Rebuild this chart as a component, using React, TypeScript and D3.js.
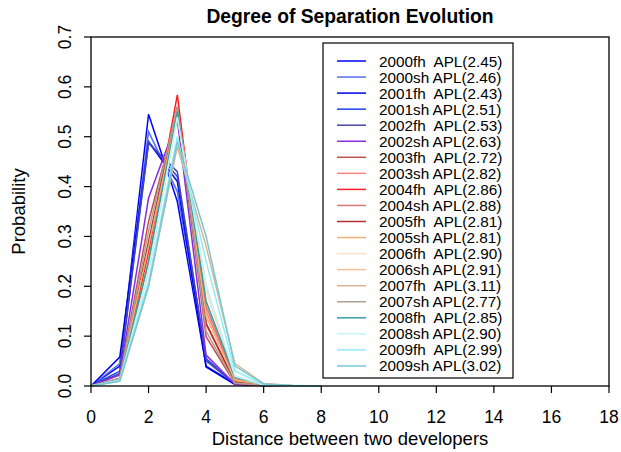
import React from "react";
import * as d3 from "d3";

const distances = [0, 1, 2, 3, 4, 5, 6, 7, 8];
const periods = ["2000fh", "2000sh", "2001fh", "2001sh", "2002fh", "2002sh", "2003fh", "2003sh", "2004fh", "2004sh",
  "2005fh", "2005sh", "2006fh", "2006sh", "2007fh", "2007sh", "2008fh", "2008sh", "2009fh", "2009sh"];
const apl = ["2.45", "2.46", "2.43", "2.51", "2.53", "2.63", "2.72", "2.82", "2.86", "2.88",
  "2.81", "2.81", "2.90", "2.91", "3.11", "2.77", "2.85", "2.90", "2.99", "3.02"];
const colors = ["#0000FF", "#5570F0", "#0000E8", "#2040EE", "#4545B0", "#8A2BE2", "#C05050", "#FF8080", "#FF2020", "#D87878",
  "#B03030", "#F2B070", "#FFE0C0", "#F4C290", "#D8B490", "#B0A090", "#3A9CA2", "#C0F6FC", "#90ECF8", "#78C8D2"];
const s2000fh = [0, 0.04, 0.545, 0.37, 0.04, 0.004, 0.001, 0, 0];
const s2000sh = [0, 0.045, 0.51, 0.39, 0.05, 0.004, 0.001, 0, 0];
const s2001fh = [0, 0.058, 0.49, 0.41, 0.038, 0.003, 0.001, 0, 0];
const s2001sh = [0, 0.03, 0.49, 0.42, 0.055, 0.004, 0.001, 0, 0];
const s2002fh = [0, 0.025, 0.487, 0.43, 0.052, 0.005, 0.001, 0, 0];
const s2002sh = [0, 0.022, 0.377, 0.534, 0.062, 0.004, 0.001, 0, 0];
const s2003fh = [0, 0.015, 0.33, 0.55, 0.099, 0.005, 0.001, 0, 0];
const s2003sh = [0, 0.012, 0.27, 0.55, 0.15, 0.015, 0.002, 0, 0];
const s2004fh = [0, 0.012, 0.27, 0.584, 0.125, 0.008, 0.001, 0, 0];
const s2004sh = [0, 0.012, 0.25, 0.56, 0.16, 0.015, 0.002, 0, 0];
const s2005fh = [0, 0.015, 0.29, 0.56, 0.125, 0.008, 0.001, 0, 0];
const s2005sh = [0, 0.015, 0.28, 0.55, 0.14, 0.012, 0.002, 0, 0];
const s2006fh = [0, 0.012, 0.23, 0.55, 0.19, 0.018, 0.002, 0, 0];
const s2006sh = [0, 0.012, 0.23, 0.54, 0.2, 0.02, 0.002, 0, 0];
const s2007fh = [0, 0.01, 0.2, 0.48, 0.28, 0.045, 0.005, 0.001, 0];
const s2007sh = [0, 0.015, 0.31, 0.56, 0.11, 0.006, 0.001, 0, 0];
const s2008fh = [0, 0.012, 0.25, 0.55, 0.17, 0.018, 0.002, 0, 0];
const s2008sh = [0, 0.012, 0.23, 0.54, 0.2, 0.02, 0.002, 0, 0];
const s2009fh = [0, 0.01, 0.21, 0.5, 0.25, 0.03, 0.003, 0.001, 0];
const s2009sh = [0, 0.01, 0.2, 0.49, 0.3, 0.04, 0.004, 0.001, 0];
const series = [s2000fh, s2000sh, s2001fh, s2001sh, s2002fh, s2002sh, s2003fh, s2003sh, s2004fh, s2004sh,
  s2005fh, s2005sh, s2006fh, s2006sh, s2007fh, s2007sh, s2008fh, s2008sh, s2009fh, s2009sh];
const xTicks = [0, 2, 4, 6, 8, 10, 12, 14, 16, 18];
const yTicks = [0, 0.1, 0.2, 0.3, 0.4, 0.5, 0.6, 0.7];

const W = 621, H = 452;
const L = 91, R = 609, T = 37, B = 386;
const FONT = "Liberation Sans, Arial, sans-serif";

export default function App() {
  const x = d3.scaleLinear().domain([0, 18]).range([L, R]);
  const y = d3.scaleLinear().domain([0, 0.7]).range([B, T]);
  const line = d3.line<number>().x((_, i) => x(distances[i])).y((d) => y(d));
  const legX = 323, legY = 43, legW = 190, legH = 335;
  const rowY = (i: number) => 61 + i * 16.05;
  return (
    <svg width={W} height={H} style={{ position: "absolute", left: 0, top: 0, background: "#fff" }} fontFamily={FONT}>
      <rect x={0} y={0} width={W} height={H} fill="#fff" />
      <text x={(L + R) / 2} y={23} textAnchor="middle" fontSize={19.3} fontWeight="bold">Degree of Separation Evolution</text>
      <g>
        {series.map((s, i) => (
          <path key={i} d={line(s) || ""} fill="none" stroke={colors[i]} strokeWidth={1.5} />
        ))}
      </g>
      <rect x={L} y={T} width={R - L} height={B - T} fill="none" stroke="#000" strokeWidth={1.3} />
      {xTicks.map((t) => (
        <g key={t}>
          <line x1={x(t)} x2={x(t)} y1={B} y2={B + 7} stroke="#000" strokeWidth={1.2} />
          <text x={x(t)} y={423} textAnchor="middle" fontSize={17.5}>{t}</text>
        </g>
      ))}
      {yTicks.map((t) => (
        <g key={t}>
          <line x1={L - 7} x2={L} y1={y(t)} y2={y(t)} stroke="#000" strokeWidth={1.2} />
          <text transform={`translate(71,${y(t)}) rotate(-90)`} textAnchor="middle" fontSize={17.5}>{t.toFixed(1)}</text>
        </g>
      ))}
      <text x={(L + R) / 2} y={445} textAnchor="middle" fontSize={18.5}>Distance between two developers</text>
      <text transform={`translate(25,${(T + B) / 2}) rotate(-90)`} textAnchor="middle" fontSize={18.5}>Probability</text>
      <rect x={legX} y={legY} width={legW} height={legH} fill="#fff" stroke="#000" strokeWidth={1.2} />
      {periods.map((p, i) => (
        <g key={p}>
          <line x1={337} x2={366} y1={rowY(i)} y2={rowY(i)} stroke={colors[i]} strokeWidth={1.5} />
          <text x={379} y={rowY(i) + 5.5} fontSize={15.3} style={{ whiteSpace: "pre" }}>
            {p.endsWith("fh") ? `${p}  APL(${apl[i]})` : `${p} APL(${apl[i]})`}
          </text>
        </g>
      ))}
    </svg>
  );
}
